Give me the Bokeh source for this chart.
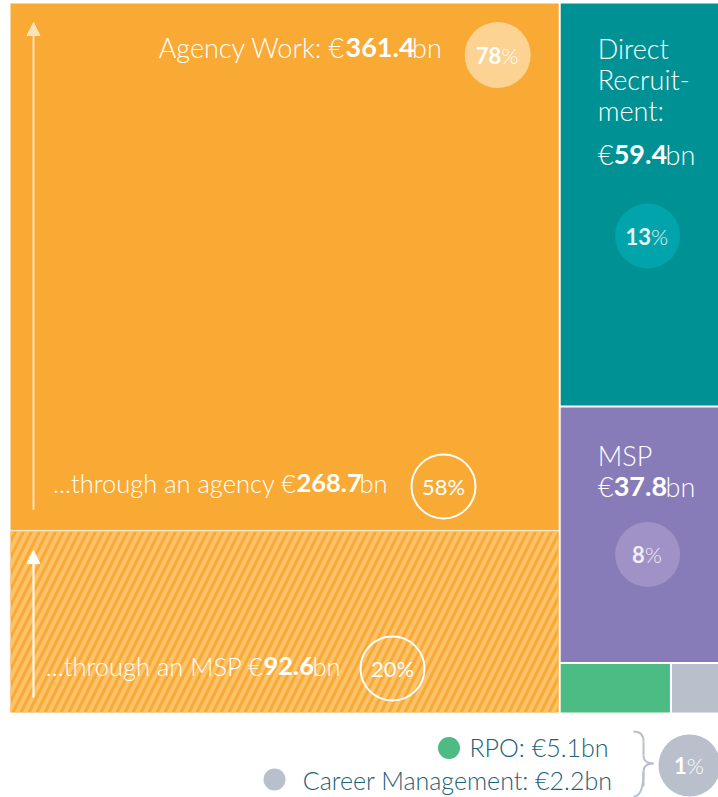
from bokeh.plotting import figure
from bokeh.models import Range1d, Arrow, NormalHead
from bokeh.core.properties import value
from bokeh.embed import file_html
from bokeh.resources import INLINE

# ---------------- data ----------------
segments = ["Agency Work", "Direct Recruitment", "MSP", "RPO", "Career Management"]
values = [361.4, 59.4, 37.8, 5.1, 2.2]
shares = [78, 13, 8]
small_share = 1
agency_channels = ["...through an agency", "...through an MSP"]
agency_values = [268.7, 92.6]
agency_shares = [58, 20]
colors = ["#F9AA34", "#009194", "#877BB8", "#4DBC84", "#B9C0CC"]
circle_colors = ["#FDD393", "#00A4AA", "#A092C7"]

LIGHT = value("Lato Light, Lato")
REG = value("Lato")
WHITE = "#FFFFFF"
TEAL_TXT = "#1D6175"
BASE_FIX = 0.36  # empirical baseline correction (fraction of font size)

# ---------------- figure ----------------
p = figure(width=718, height=797, x_range=Range1d(0, 718), y_range=Range1d(797, 0),
           output_backend="svg", toolbar_location=None, min_border=0)
p.axis.visible = False
p.grid.visible = False
p.outline_line_color = None
p.background_fill_color = "white"
p.border_fill_color = "white"

# ---------------- treemap layout ----------------
X0, X1, Y0, Y1 = 10, 718, 3, 712
W, H = X1 - X0, Y1 - Y0
total = sum(values)
aw = W * values[0] / total
ax1 = X0 + aw

# agency split
solid_h = H * agency_values[0] / values[0]
p.quad(left=[X0], right=[ax1 - 1], top=[Y0], bottom=[Y0 + solid_h - 0.5],
       fill_color=colors[0], line_color=None)
p.quad(left=[X0], right=[ax1 - 1], top=[Y0 + solid_h + 0.5], bottom=[Y1],
       fill_color=colors[0], line_color=None,
       hatch_pattern="/", hatch_color="#FCC26C", hatch_weight=4, hatch_scale=16)

# right column
rl, rr = ax1 + 1, X1
rest = sum(values[1:])
y = Y0
tops, bots = [], []
for v in [values[1], values[2], values[3] + values[4]]:
    h = H * v / rest
    tops.append(y)
    bots.append(y + h)
    y += h
p.quad(left=[rl, rl], right=[rr, rr], top=[tops[0], tops[1] + 1],
       bottom=[bots[0] - 1, bots[1] - 1], fill_color=colors[1:3], line_color=None)
small = values[3] + values[4]
rsplit = rl + (rr - rl) * values[3] / small
p.quad(left=[rl, rsplit + 1], right=[rsplit - 1, rr], top=[tops[2] + 1] * 2,
       bottom=[Y1, Y1], fill_color=colors[3:5], line_color=None)

# ---------------- arrows ----------------
p.add_layout(Arrow(end=NormalHead(size=13, fill_color="#FDE2BA", line_color="#FDE2BA"),
                   x_start=X0 + 23, y_start=Y0 + solid_h - 21, x_end=X0 + 23, y_end=22,
                   line_color="#FDE2BA", line_width=2))
p.add_layout(Arrow(end=NormalHead(size=13, fill_color=WHITE, line_color=WHITE),
                   x_start=X0 + 23, y_start=Y1 - 15, x_end=X0 + 23, y_end=Y0 + solid_h + 20,
                   line_color=WHITE, line_width=2))


def txt(x, y, s, size, font, color=WHITE, align="left", bold=False):
    p.text(x=[x], y=[y - BASE_FIX * size], text=[s], text_font=font,
           text_font_size=f"{size}px", text_color=color, text_align=align,
           text_baseline="alphabetic", text_font_style="bold" if bold else "normal")


def bold_width(s, size):
    n_d = sum(c.isdigit() for c in s)
    n_o = len(s) - n_d
    return size * (0.545 * n_d + 0.25 * n_o)


def money(xb, y, prefix, num, size, color=WHITE):
    txt(xb, y, prefix, size, LIGHT, color, align="right")
    txt(xb, y, num, size, REG, color, bold=True)
    txt(xb + bold_width(num, size) + 1, y, "bn", size, LIGHT, color)


def pct_circle(cx, cy, r, share, fill=None, outline=False, bold=True, pct_color=WHITE):
    if outline:
        p.circle(x=[cx], y=[cy], radius=r, fill_color=None, line_color=WHITE, line_width=2)
    else:
        p.circle(x=[cx], y=[cy], radius=r, fill_color=fill, line_color=None)
    d = str(share)
    if bold:
        wd, wp = 12.5 * len(d), 18
        split = cx + (wd - wp) / 2
        txt(split, cy + 8, d, 22, REG, pct_color, align="right", bold=True)
        txt(split, cy + 8, "%", 22, LIGHT, pct_color)
    else:
        txt(cx, cy + 8, f"{d}%", 22, REG, align="center")


# ---------------- labels: Agency Work ----------------
money(345, 57, segments[0] + ": €", f"{values[0]}", 27)
pct_circle(ax1 - 62, 54.5, 33, shares[0], fill=circle_colors[0])

money(296, 492, agency_channels[0] + " €", f"{agency_values[0]}", 25.5)
pct_circle(443, 486, 32, agency_shares[0], outline=True, bold=False)

money(263, 675, agency_channels[1] + " €", f"{agency_values[1]}", 25.5)
pct_circle(392, 668, 32, agency_shares[1], outline=True, bold=False)

# ---------------- Direct Recruitment ----------------
lx = rl + 37
for i, line in enumerate(["Direct", "Recruit-", "ment:"]):
    txt(lx, 58 + 31 * i, line, 27, LIGHT)
money(lx + 16, 164, "€", f"{values[1]}", 27)
pct_circle((rl + rr) / 2 + 8, 235.5, 32.5, shares[1], fill=circle_colors[1],
           pct_color="#E4F3F3")

# ---------------- MSP ----------------
txt(lx, tops[1] + 59, segments[2], 27, LIGHT)
money(lx + 16, tops[1] + 90, "€", f"{values[2]}", 27)
pct_circle((rl + rr) / 2 + 8, tops[1] + 148, 32.5, shares[2], fill=circle_colors[2],
           pct_color="#F0EEF6")

# ---------------- legend for small segments ----------------
p.circle(x=[448.5], y=[747.5], radius=11, fill_color=colors[3], line_color=None)
txt(608, 755, f"{segments[3]}: €{values[3]}bn", 25, LIGHT, TEAL_TXT, align="right")
p.circle(x=[274], y=[779], radius=11, fill_color=colors[4], line_color=None)
txt(612, 788, f"{segments[4]}: €{values[4]}bn", 25, LIGHT, TEAL_TXT, align="right")

# brace
bc = "#B9C0CC"
p.quadratic(x0=[633, 643, 653, 643], y0=[731, 755, 763, 771],
            x1=[643, 653, 643, 633], y1=[741, 763, 771, 796],
            cx=[643, 643, 643, 643], cy=[731, 763, 763, 796],
            line_color=bc, line_width=2)
p.segment(x0=[643, 643], y0=[741, 771], x1=[643, 643], y1=[755, 786],
          line_color=bc, line_width=2)

# 1% circle
p.circle(x=[689], y=[765], radius=31, fill_color=colors[4], line_color=None)
split = 689 + (12.5 - 18) / 2
txt(split, 773, str(small_share), 22, REG, align="right", bold=True)
txt(split, 773, "%", 22, LIGHT)

open("out.html", "w").write(file_html(p, INLINE))
